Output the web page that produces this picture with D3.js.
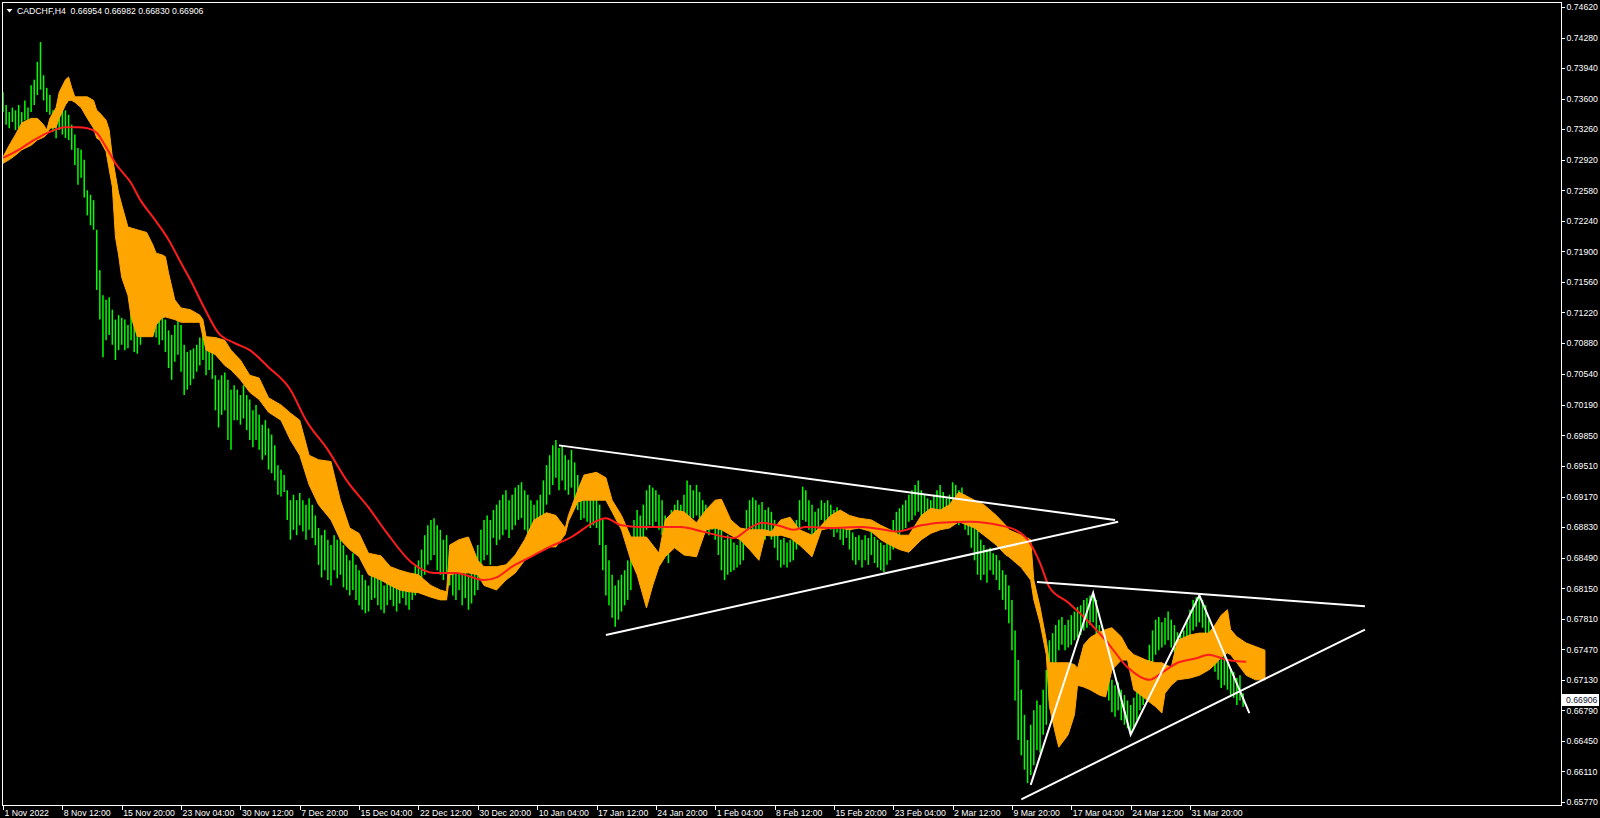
<!DOCTYPE html>
<html><head><meta charset="utf-8">
<script src="https://cdn.jsdelivr.net/npm/d3@7"></script>
<style>html,body{margin:0;padding:0;background:#000;overflow:hidden}</style>
</head><body><svg id="c" width="1600" height="818"></svg>
<script>
// ---------------- DATA ----------------
const symbolTitle = "CADCHF,H4";
const lastOHLC = ["0.66954", "0.66982", "0.66830", "0.66906"];
const lastPrice = 0.66906;
const timeLabels = ["1 Nov 2022","8 Nov 12:00","15 Nov 20:00","23 Nov 04:00","30 Nov 12:00","7 Dec 20:00",
  "15 Dec 04:00","22 Dec 12:00","30 Dec 20:00","10 Jan 04:00","17 Jan 12:00","24 Jan 20:00","1 Feb 04:00",
  "8 Feb 12:00","15 Feb 20:00","23 Feb 04:00","2 Mar 12:00","9 Mar 20:00","17 Mar 04:00","24 Mar 12:00","31 Mar 20:00"];
const barsPerLabel = 19;
const priceTicks = [0.74620,0.74280,0.73940,0.73600,0.73260,0.72920,0.72580,0.72240,0.71900,0.71560,0.71220,
  0.70880,0.70540,0.70190,0.69850,0.69510,0.69170,0.68830,0.68490,0.68150,0.67810,0.67470,0.67130,0.66790,
  0.66450,0.66110,0.65770];

// H4 bar highs / lows (one per bar)
const barHigh = [
0.7367,0.7353,0.7345,0.7350,0.7347,0.7353,0.7345,0.7358,0.7350,0.7375,0.7381,0.7401,0.7423,0.7386,0.7372,0.7364,0.7347,0.7342,0.7353,
0.7350,0.7347,0.7342,0.7331,0.7320,0.7305,0.7303,0.7292,0.7258,0.7253,0.7247,0.7214,0.7169,0.7141,0.7136,0.7139,0.7125,0.7114,0.7119,
0.7116,0.7114,0.7108,0.7119,0.7114,0.7102,0.7114,0.7125,0.7130,0.7136,0.7130,0.7119,0.7114,0.7116,0.7114,0.7102,0.7097,0.7108,0.7114,
0.7108,0.7086,0.7078,0.7080,0.7082,0.7086,0.7094,0.7099,0.7091,0.7086,0.7078,0.7052,0.7047,0.7052,0.7055,0.7047,0.7036,0.7041,0.7036,
0.7030,0.7041,0.7030,0.7025,0.7013,0.7019,0.7008,0.6997,0.7002,0.6993,0.6986,0.6974,0.6952,0.6947,0.6941,0.6924,0.6913,0.6919,0.6913,
0.6921,0.6913,0.6908,0.6915,0.6908,0.6896,0.6882,0.6874,0.6880,0.6869,0.6863,0.6874,0.6869,0.6874,0.6863,0.6852,0.6846,0.6854,0.6841,
0.6835,0.6830,0.6824,0.6818,0.6830,0.6835,0.6830,0.6824,0.6818,0.6826,0.6830,0.6824,0.6821,0.6830,0.6833,0.6826,0.6822,0.6830,0.6841,
0.6846,0.6858,0.6874,0.6885,0.6891,0.6893,0.6885,0.6880,0.6869,0.6874,0.6858,0.6846,0.6841,0.6846,0.6835,0.6841,0.6830,0.6835,0.6846,
0.6863,0.6880,0.6891,0.6896,0.6891,0.6902,0.6908,0.6913,0.6919,0.6924,0.6913,0.6919,0.6927,0.6930,0.6933,0.6924,0.6919,0.6913,0.6908,
0.6913,0.6919,0.6935,0.6952,0.6963,0.6974,0.6980,0.6971,0.6974,0.6963,0.6958,0.6969,0.6955,0.6941,0.6928,0.6924,0.6922,0.6913,0.6915,
0.6913,0.6908,0.6891,0.6863,0.6846,0.6830,0.6818,0.6824,0.6830,0.6835,0.6846,0.6869,0.6891,0.6902,0.6896,0.6908,0.6924,0.6930,0.6927,
0.6924,0.6919,0.6913,0.6896,0.6891,0.6902,0.6908,0.6913,0.6908,0.6919,0.6935,0.6930,0.6924,0.6930,0.6922,0.6913,0.6908,0.6904,0.6908,
0.6902,0.6891,0.6880,0.6869,0.6874,0.6871,0.6866,0.6863,0.6869,0.6880,0.6902,0.6913,0.6916,0.6913,0.6908,0.6911,0.6902,0.6905,0.6900,
0.6891,0.6874,0.6869,0.6871,0.6866,0.6869,0.6874,0.6891,0.6913,0.6928,0.6924,0.6913,0.6908,0.6900,0.6904,0.6913,0.6910,0.6913,0.6908,
0.6902,0.6905,0.6896,0.6891,0.6896,0.6885,0.6877,0.6872,0.6874,0.6869,0.6874,0.6871,0.6880,0.6872,0.6869,0.6866,0.6863,0.6869,0.6880,
0.6891,0.6900,0.6904,0.6908,0.6913,0.6919,0.6924,0.6930,0.6935,0.6924,0.6919,0.6915,0.6913,0.6919,0.6924,0.6930,0.6922,0.6915,0.6919,
0.6933,0.6930,0.6924,0.6927,0.6919,0.6913,0.6902,0.6891,0.6880,0.6869,0.6863,0.6858,0.6860,0.6854,0.6852,0.6846,0.6835,0.6830,0.6818,
0.6802,0.6768,0.6735,0.6702,0.6674,0.6646,0.6663,0.6679,0.6690,0.6685,0.6702,0.6724,0.6757,0.6765,0.6774,0.6780,0.6783,0.6774,0.6780,
0.6785,0.6789,0.6794,0.6796,0.6802,0.6804,0.6807,0.6809,0.6802,0.6774,0.6763,0.6746,0.6730,0.6713,0.6707,0.6710,0.6702,0.6696,0.6690,
0.6685,0.6693,0.6702,0.6713,0.6721,0.6735,0.6752,0.6768,0.6780,0.6783,0.6777,0.6782,0.6789,0.6780,0.6774,0.6766,0.6763,0.6768,0.6780,
0.6791,0.6802,0.6805,0.6807,0.6802,0.6796,0.6780,0.6768,0.6757,0.6746,0.6739,0.6741,0.6733,0.6726,0.6722,0.6715,0.6718,0.6698];
const barLow = [
0.7345,0.7331,0.7327,0.7334,0.7325,0.7327,0.7328,0.7336,0.7331,0.7345,0.7353,0.7364,0.7370,0.7358,0.7345,0.7342,0.7323,0.7316,0.7325,
0.7320,0.7316,0.7314,0.7303,0.7286,0.7264,0.7272,0.7250,0.7230,0.7219,0.7214,0.7147,0.7114,0.7072,0.7091,0.7097,0.7086,0.7069,0.7080,
0.7086,0.7080,0.7082,0.7091,0.7078,0.7076,0.7086,0.7097,0.7102,0.7111,0.7102,0.7094,0.7086,0.7091,0.7078,0.7060,0.7047,0.7067,0.7075,
0.7056,0.7030,0.7036,0.7041,0.7048,0.7056,0.7063,0.7069,0.7052,0.7058,0.7048,0.7013,0.6994,0.7008,0.7013,0.6980,0.6969,0.7002,0.7002,
0.6997,0.7004,0.6991,0.6980,0.6972,0.6980,0.6969,0.6958,0.6963,0.6947,0.6943,0.6935,0.6919,0.6917,0.6922,0.6891,0.6869,0.6880,0.6874,
0.6885,0.6878,0.6869,0.6880,0.6871,0.6863,0.6841,0.6827,0.6835,0.6824,0.6818,0.6835,0.6826,0.6830,0.6816,0.6813,0.6807,0.6813,0.6802,
0.6796,0.6791,0.6787,0.6789,0.6802,0.6804,0.6796,0.6791,0.6787,0.6796,0.6802,0.6795,0.6789,0.6798,0.6804,0.6796,0.6791,0.6802,0.6807,
0.6813,0.6824,0.6830,0.6841,0.6846,0.6852,0.6835,0.6830,0.6824,0.6833,0.6818,0.6807,0.6802,0.6813,0.6796,0.6804,0.6791,0.6798,0.6807,
0.6813,0.6830,0.6846,0.6852,0.6841,0.6871,0.6863,0.6869,0.6874,0.6880,0.6871,0.6880,0.6885,0.6891,0.6893,0.6880,0.6874,0.6869,0.6863,
0.6860,0.6869,0.6891,0.6908,0.6919,0.6930,0.6938,0.6924,0.6935,0.6924,0.6919,0.6927,0.6913,0.6902,0.6891,0.6893,0.6889,0.6882,0.6885,
0.6882,0.6863,0.6835,0.6807,0.6796,0.6782,0.6772,0.6780,0.6789,0.6796,0.6802,0.6813,0.6841,0.6852,0.6846,0.6863,0.6880,0.6885,0.6882,
0.6889,0.6880,0.6874,0.6852,0.6843,0.6858,0.6880,0.6882,0.6878,0.6885,0.6896,0.6891,0.6893,0.6896,0.6889,0.6882,0.6877,0.6874,0.6880,
0.6869,0.6852,0.6835,0.6824,0.6830,0.6833,0.6835,0.6838,0.6841,0.6846,0.6869,0.6874,0.6880,0.6874,0.6872,0.6878,0.6869,0.6874,0.6869,
0.6860,0.6846,0.6838,0.6841,0.6838,0.6844,0.6846,0.6858,0.6874,0.6891,0.6889,0.6880,0.6872,0.6869,0.6878,0.6891,0.6885,0.6889,0.6880,
0.6872,0.6877,0.6869,0.6863,0.6871,0.6858,0.6846,0.6841,0.6846,0.6838,0.6846,0.6841,0.6852,0.6843,0.6838,0.6835,0.6833,0.6841,0.6846,
0.6858,0.6869,0.6872,0.6880,0.6882,0.6889,0.6891,0.6896,0.6900,0.6893,0.6891,0.6885,0.6882,0.6889,0.6896,0.6900,0.6891,0.6882,0.6889,
0.6896,0.6893,0.6885,0.6891,0.6880,0.6874,0.6860,0.6846,0.6830,0.6824,0.6830,0.6821,0.6835,0.6830,0.6824,0.6813,0.6802,0.6791,0.6776,
0.6746,0.6690,0.6646,0.6629,0.6613,0.6598,0.6607,0.6618,0.6635,0.6632,0.6652,0.6663,0.6690,0.6713,0.6730,0.6746,0.6752,0.6746,0.6749,
0.6752,0.6757,0.6760,0.6763,0.6768,0.6771,0.6774,0.6777,0.6763,0.6741,0.6730,0.6707,0.6690,0.6677,0.6672,0.6679,0.6668,0.6663,0.6659,
0.6654,0.6660,0.6668,0.6679,0.6685,0.6696,0.6713,0.6730,0.6741,0.6746,0.6749,0.6752,0.6757,0.6749,0.6744,0.6737,0.6735,0.6741,0.6746,
0.6757,0.6768,0.6772,0.6777,0.6771,0.6763,0.6741,0.6730,0.6722,0.6713,0.6704,0.6707,0.6702,0.6696,0.6693,0.6685,0.6690,0.6683];

// Ichimoku-style cloud (bar index, upper edge, lower edge)
const cloudIdx = [0,2,4,6,9,11,13,14,15,17, 18,20,21,22,23,25,27,29,30,31, 33,34,35,36,37,38,40,41,43,46,
  48,49,51,52,53,55,57,60,63,64, 65,68,71,73,76,79,82,85,89,92, 95,98,101,105,108,111,114,117,121,124,
  127,130,133,137,140,142,143,146,149,152, 154,158,161,164,167,170,174,177,180,181, 184,186,190,193,195,198,201,203,206,208,
  210,212,215,218,222,225,228,230,233,236, 239,242,244,246,249,252,255,259,262,265, 268,271,274,278,281,284,287,290,294,297,
  300,303,306,311,314,318,321,322,326,329, 330,332,334,335,337,338,341,343,344,346, 348,351,353,355,358,360,362,366,369,371,
  372,374,376,380,383,386,388,390,392,393, 395,398,401,404];
const cloudUpper = [0.7295,0.7308,0.7320,0.7333,0.7338,0.7338,0.7331,0.7325,0.7338,0.7350,
  0.7367,0.7381,0.7384,0.7372,0.7362,0.7362,0.7362,0.7358,0.7347,0.7344,
  0.7336,0.7325,0.7295,0.7275,0.7255,0.7242,0.7217,0.7216,0.7214,0.7211,
  0.7197,0.7188,0.7186,0.7184,0.7166,0.7136,0.7127,0.7125,0.7119,0.7114,
  0.7095,0.7094,0.7091,0.7080,0.7069,0.7052,0.7049,0.7027,0.7019,0.7010,
  0.7002,0.6963,0.6958,0.6956,0.6913,0.6882,0.6876,0.6854,0.6851,0.6839,
  0.6835,0.6832,0.6830,0.6818,0.6813,0.6811,0.6863,0.6869,0.6872,0.6846,
  0.6839,0.6839,0.6841,0.6852,0.6869,0.6891,0.6899,0.6896,0.6882,0.6896,
  0.6924,0.6941,0.6944,0.6938,0.6913,0.6896,0.6872,0.6872,0.6872,0.6863,
  0.6854,0.6891,0.6902,0.6900,0.6888,0.6902,0.6913,0.6914,0.6891,0.6882,
  0.6880,0.6880,0.6880,0.6878,0.6891,0.6894,0.6880,0.6874,0.6885,0.6896,
  0.6902,0.6896,0.6893,0.6891,0.6885,0.6880,0.6874,0.6874,0.6896,0.6904,
  0.6902,0.6908,0.6922,0.6913,0.6908,0.6896,0.6885,0.6880,0.6874,0.6869,
  0.6824,0.6794,0.6757,0.6732,0.6732,0.6732,0.6732,0.6730,0.6726,0.6752,
  0.6760,0.6766,0.6769,0.6771,0.6761,0.6748,0.6741,0.6735,0.6732,0.6732,
  0.6730,0.6727,0.6757,0.6763,0.6765,0.6765,0.6774,0.6785,0.6791,0.6769,
  0.6761,0.6754,0.6750,0.6746];
const cloudLower = [0.7288,0.7292,0.7297,0.7303,0.7308,0.7314,0.7317,0.7320,0.7327,0.7328,
  0.7338,0.7353,0.7358,0.7358,0.7356,0.7350,0.7338,0.7327,0.7316,0.7314,
  0.7301,0.7281,0.7262,0.7206,0.7186,0.7161,0.7141,0.7117,0.7095,0.7095,
  0.7095,0.7108,0.7116,0.7117,0.7116,0.7114,0.7111,0.7111,0.7111,0.7095,
  0.7080,0.7075,0.7063,0.7058,0.7047,0.7033,0.7025,0.7011,0.7002,0.6980,
  0.6963,0.6930,0.6908,0.6891,0.6869,0.6858,0.6850,0.6830,0.6824,0.6818,
  0.6813,0.6811,0.6810,0.6805,0.6802,0.6802,0.6830,0.6832,0.6832,0.6830,
  0.6818,0.6813,0.6824,0.6832,0.6846,0.6852,0.6861,0.6861,0.6875,0.6889,
  0.6911,0.6913,0.6913,0.6913,0.6900,0.6880,0.6846,0.6830,0.6793,0.6818,
  0.6839,0.6850,0.6860,0.6852,0.6850,0.6880,0.6882,0.6880,0.6874,0.6869,
  0.6858,0.6846,0.6874,0.6873,0.6874,0.6871,0.6863,0.6850,0.6880,0.6882,
  0.6882,0.6880,0.6882,0.6878,0.6869,0.6863,0.6858,0.6855,0.6869,0.6876,
  0.6880,0.6882,0.6889,0.6882,0.6874,0.6863,0.6852,0.6850,0.6838,0.6824,
  0.6802,0.6776,0.6741,0.6683,0.6652,0.6638,0.6652,0.6674,0.6707,0.6705,
  0.6702,0.6696,0.6694,0.6724,0.6735,0.6735,0.6702,0.6691,0.6683,0.6676,
  0.6698,0.6707,0.6713,0.6715,0.6718,0.6724,0.6730,0.6738,0.6743,0.6741,
  0.6732,0.6718,0.6713,0.6713];

// Moving average (red)
const maIdx = [0,5,10,15,20,24,27,30,33,36,41,44,48,53,57,60,64,69,74,79,85,92,97,104,110,117,123,131,138,145,
  154,158,163,169,175,182,189,193,198,204,211,217,224,234,239,243,249,253,257,265,275,282,286,294,300,
  310,319,324,328,332,335,341,348,353,360,367,371,376,382,386,392,398];
const maValue = [0.7294,0.7303,0.7314,0.7323,0.7328,0.7328,0.7327,0.7322,0.7306,0.7288,0.7266,0.7247,0.7228,0.7203,0.7177,
  0.7158,0.7130,0.7099,0.7088,0.7080,0.7061,0.7036,0.7002,0.6969,0.6935,0.6905,0.6876,0.6843,0.6832,0.6832,
  0.6824,0.6827,0.6839,0.6850,0.6861,0.6872,0.6888,0.6893,0.6885,0.6883,0.6883,0.6883,0.6878,0.6871,0.6882,
  0.6888,0.6884,0.6880,0.6883,0.6882,0.6883,0.6880,0.6878,0.6885,0.6888,0.6889,0.6885,0.6880,0.6869,0.6843,
  0.6816,0.6799,0.6776,0.6757,0.6727,0.6713,0.6721,0.6732,0.6737,0.6741,0.6735,0.6733];

// White trendlines (start bar, start price, end bar, end price)
const trendStartIdx = [178, 193, 331, 326];
const trendStartPrice = [0.6974, 0.6763, 0.6822, 0.6580];
const trendEndIdx = [356, 357, 436, 436];
const trendEndPrice = [0.6891, 0.6889, 0.6795, 0.6769];
const zigzagIdx = [329, 349, 361, 383, 399];
const zigzagPrice = [0.6596, 0.6810, 0.6652, 0.6807, 0.6676];

// ---------------- DRAW ----------------
const W = 1600, H = 818;
const FONT = "'Liberation Sans', Arial, sans-serif";
const FS = 8.7;
const svg = d3.select('#c');
svg.append('rect').attr('width', W).attr('height', H).attr('fill', '#000');

const x = d3.scaleLinear().domain([0, 380]).range([3, 1190]);
const y = d3.scaleLinear().domain([0.65770, 0.74620]).range([802, 7]);

svg.append('clipPath').attr('id', 'plotclip').append('rect')
  .attr('x', 3).attr('y', 3).attr('width', 1558).attr('height', 802);
const plot = svg.append('g').attr('clip-path', 'url(#plotclip)');

// bars
plot.append('g').selectAll('line')
  .data(barHigh).join('line')
  .attr('x1', (d, i) => x(i))
  .attr('x2', (d, i) => x(i))
  .attr('y1', d => y(d))
  .attr('y2', (d, i) => y(barLow[i]))
  .attr('stroke', '#00ff00').attr('stroke-width', 1.5);

// cloud
const cloudData = cloudIdx.map((d, k) => ({i: d, hi: cloudUpper[k], lo: cloudLower[k]}));
plot.append('path').datum(cloudData)
  .attr('d', d3.area().x(d => x(d.i)).y0(d => y(d.lo)).y1(d => y(d.hi)))
  .attr('fill', '#ffa500').attr('stroke', '#ffa500').attr('stroke-width', 1);

// moving average
const maData = maIdx.map((d, k) => ({i: d, v: maValue[k]}));
plot.append('path').datum(maData)
  .attr('d', d3.line().curve(d3.curveMonotoneX).x(d => x(d.i)).y(d => y(d.v)))
  .attr('fill', 'none').attr('stroke', '#ff1c1c').attr('stroke-width', 2);

// trendlines
plot.append('g').selectAll('line').data(trendStartIdx).join('line')
  .attr('x1', d => x(d)).attr('y1', (d, k) => y(trendStartPrice[k]))
  .attr('x2', (d, k) => x(trendEndIdx[k])).attr('y2', (d, k) => y(trendEndPrice[k]))
  .attr('stroke', '#ffffff').attr('stroke-width', 2);
plot.append('path').datum(zigzagIdx.map((d, k) => [d, zigzagPrice[k]]))
  .attr('d', d3.line().x(d => x(d[0])).y(d => y(d[1])))
  .attr('fill', 'none').attr('stroke', '#ffffff').attr('stroke-width', 2);

// frame
svg.append('rect').attr('x', 2.5).attr('y', 2.5).attr('width', 1559).attr('height', 803)
  .attr('fill', 'none').attr('stroke', '#ffffff').attr('stroke-width', 1).attr('shape-rendering', 'crispEdges');

// price axis
const yAxis = d3.axisRight(y).tickValues(priceTicks).tickFormat(d3.format('.5f')).tickSize(3).tickPadding(2);
const ya = svg.append('g').attr('transform', 'translate(1561.5,0)').call(yAxis)
  .attr('font-family', FONT).attr('font-size', FS);
ya.select('.domain').remove();
ya.selectAll('line').attr('stroke', '#fff').attr('shape-rendering', 'crispEdges');
ya.selectAll('text').attr('fill', '#fff');

// time axis
const labelIdx = timeLabels.map((d, k) => k * barsPerLabel);
const xAxis = d3.axisBottom(x).tickValues(labelIdx)
  .tickFormat(d => timeLabels[Math.round(d / barsPerLabel)]).tickSize(4).tickPadding(0);
const xa = svg.append('g').attr('transform', 'translate(0,805.5)').call(xAxis)
  .attr('font-family', FONT).attr('font-size', FS);
xa.select('.domain').remove();
xa.selectAll('line').attr('stroke', '#fff').attr('shape-rendering', 'crispEdges');
xa.selectAll('text').attr('fill', '#fff').attr('text-anchor', 'start').attr('x', 1);

// last price marker
const ly = y(lastPrice);
svg.append('rect').attr('x', 1562).attr('y', Math.round(ly) - 6).attr('width', 37).attr('height', 12).attr('fill', '#fff');
svg.append('text').attr('x', 1566).attr('y', ly).attr('dy', '0.35em')
  .attr('font-family', FONT).attr('font-size', FS).attr('fill', '#101030').text(lastPrice.toFixed(5));

// header
svg.append('path').attr('d', 'M6.5,9 L12.5,9 L9.5,12.5 Z').attr('fill', '#fff');
svg.append('text').attr('x', 17).attr('y', 14).style('white-space', 'pre')
  .attr('font-family', FONT).attr('font-size', FS).attr('fill', '#fff')
  .text(symbolTitle + '  ' + lastOHLC.join(' '));
</script>
</body></html>
